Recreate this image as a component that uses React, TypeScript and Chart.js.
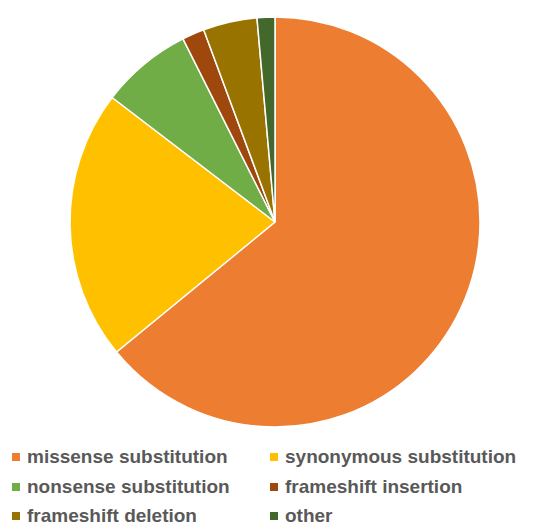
import React, { useEffect, useRef } from "react";
import { Chart, registerables } from "chart.js";

Chart.register(...registerables);

const categories = [
  "missense substitution",
  "synonymous substitution",
  "nonsense substitution",
  "frameshift insertion",
  "frameshift deletion",
  "other",
];
const values = [64.0, 21.3, 7.2, 1.75, 4.25, 1.4];
const colors = ["#ED7D31", "#FFC000", "#70AD47", "#9E480E", "#997300", "#43682B"];

export default function App() {
  const ref = useRef<HTMLCanvasElement | null>(null);
  useEffect(() => {
    if (!ref.current) return;
    const chart = new Chart(ref.current, {
      type: "pie",
      data: {
        labels: categories,
        datasets: [
          {
            data: values,
            backgroundColor: colors,
            borderColor: "#ffffff",
            borderWidth: 1.5,
          },
        ],
      },
      options: {
        responsive: false,
        animation: false,
        radius: 205,
        layout: { padding: { top: 4, left: 7, right: 0, bottom: 0 } },
        plugins: { legend: { display: false }, tooltip: { enabled: false } },
      },
    });
    return () => chart.destroy();
  }, []);

  const rowY = [457, 487, 516];
  const colX = [12, 270];
  return (
    <div
      style={{
        position: "fixed",
        left: 0,
        top: 0,
        width: 543,
        height: 523,
        background: "#fff",
        overflow: "hidden",
      }}
    >
      <canvas ref={ref} width={543} height={440} style={{ position: "absolute", left: 0, top: 0 }} />
      {categories.map((c, i) => {
        const row = Math.floor(i / 2);
        const col = i % 2;
        return (
          <div
            key={c}
            style={{
              position: "absolute",
              left: colX[col],
              top: rowY[row] - 12,
              height: 24,
              display: "flex",
              alignItems: "center",
              fontFamily: '"Liberation Sans", Arial, sans-serif',
              fontWeight: "bold",
              fontSize: 19,
              color: "#595959",
              whiteSpace: "nowrap",
            }}
          >
            <span
              style={{
                display: "inline-block",
                width: 8,
                height: 8,
                background: colors[i],
                marginRight: 7,
              }}
            />
            <span>{c}</span>
          </div>
        );
      })}
    </div>
  );
}
